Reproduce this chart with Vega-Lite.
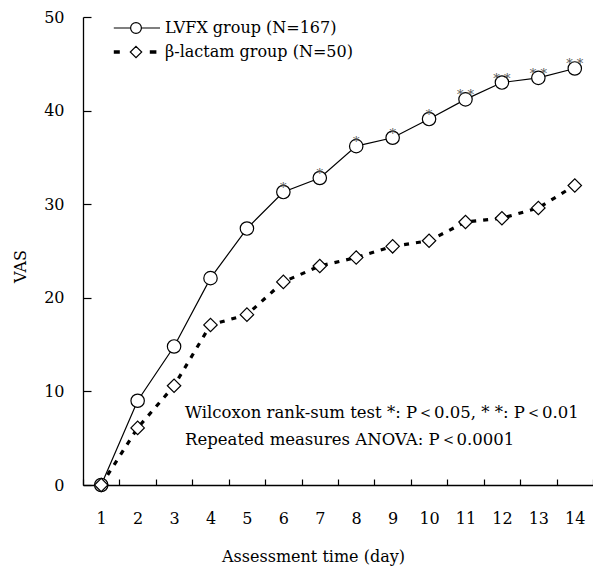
{
  "$schema": "https://vega.github.io/schema/vega-lite/v6.json",
  "width": 510,
  "height": 468,
  "autosize": {"type": "none"},
  "padding": {"left": 83, "top": 17, "right": 0, "bottom": 81},
  "background": "white",
  "config": {
    "view": {"stroke": null},
    "font": "DejaVu Serif",
    "axis": {
      "domainColor": "black",
      "tickColor": "black",
      "labelColor": "black",
      "titleColor": "black",
      "labelFont": "DejaVu Serif",
      "titleFont": "DejaVu Serif",
      "labelFontSize": 16,
      "titleFontSize": 16,
      "titleFontWeight": "normal",
      "grid": false,
      "domainWidth": 1.3,
      "tickWidth": 1.2
    }
  },
  "data": {
    "values": [
      {"day": 1, "group": "LVFX group (N=167)", "vas": 0, "sig": ""},
      {"day": 2, "group": "LVFX group (N=167)", "vas": 9.0, "sig": ""},
      {"day": 3, "group": "LVFX group (N=167)", "vas": 14.8, "sig": ""},
      {"day": 4, "group": "LVFX group (N=167)", "vas": 22.1, "sig": ""},
      {"day": 5, "group": "LVFX group (N=167)", "vas": 27.4, "sig": ""},
      {"day": 6, "group": "LVFX group (N=167)", "vas": 31.3, "sig": "*"},
      {"day": 7, "group": "LVFX group (N=167)", "vas": 32.8, "sig": "*"},
      {"day": 8, "group": "LVFX group (N=167)", "vas": 36.2, "sig": "*"},
      {"day": 9, "group": "LVFX group (N=167)", "vas": 37.1, "sig": "*"},
      {"day": 10, "group": "LVFX group (N=167)", "vas": 39.1, "sig": "*"},
      {"day": 11, "group": "LVFX group (N=167)", "vas": 41.2, "sig": "* *"},
      {"day": 12, "group": "LVFX group (N=167)", "vas": 43.0, "sig": "* *"},
      {"day": 13, "group": "LVFX group (N=167)", "vas": 43.5, "sig": "* *"},
      {"day": 14, "group": "LVFX group (N=167)", "vas": 44.5, "sig": "* *"},
      {"day": 1, "group": "β-lactam group (N=50)", "vas": 0, "sig": ""},
      {"day": 2, "group": "β-lactam group (N=50)", "vas": 6.1, "sig": ""},
      {"day": 3, "group": "β-lactam group (N=50)", "vas": 10.6, "sig": ""},
      {"day": 4, "group": "β-lactam group (N=50)", "vas": 17.1, "sig": ""},
      {"day": 5, "group": "β-lactam group (N=50)", "vas": 18.2, "sig": ""},
      {"day": 6, "group": "β-lactam group (N=50)", "vas": 21.7, "sig": ""},
      {"day": 7, "group": "β-lactam group (N=50)", "vas": 23.4, "sig": ""},
      {"day": 8, "group": "β-lactam group (N=50)", "vas": 24.3, "sig": ""},
      {"day": 9, "group": "β-lactam group (N=50)", "vas": 25.5, "sig": ""},
      {"day": 10, "group": "β-lactam group (N=50)", "vas": 26.1, "sig": ""},
      {"day": 11, "group": "β-lactam group (N=50)", "vas": 28.1, "sig": ""},
      {"day": 12, "group": "β-lactam group (N=50)", "vas": 28.5, "sig": ""},
      {"day": 13, "group": "β-lactam group (N=50)", "vas": 29.6, "sig": ""},
      {"day": 14, "group": "β-lactam group (N=50)", "vas": 32.0, "sig": ""}
    ]
  },
  "encoding": {
    "x": {
      "field": "day",
      "type": "ordinal",
      "bandPosition": 0.5,
      "scale": {"type": "band", "paddingInner": 0, "paddingOuter": 0},
      "axis": {
        "title": "Assessment time (day)",
        "labelAngle": 0,
        "tickBand": "extent",
        "tickSize": -6,
        "labelPadding": 31,
        "titlePadding": 22,
        "titleX": 230
      }
    },
    "y": {
      "field": "vas",
      "type": "quantitative",
      "scale": {"domain": [0, 50], "nice": false},
      "axis": {
        "title": "VAS",
        "values": [0, 10, 20, 30, 40, 50],
        "tickSize": -8,
        "labelPadding": 27,
        "titleX": -63,
        "titleY": 249,
        "titleBaseline": "middle"
      }
    }
  },
  "resolve": {"scale": {"shape": "independent"}},
  "layer": [
    {
      "transform": [{"filter": "datum.group === 'LVFX group (N=167)'"}],
      "mark": {"type": "line", "color": "black", "strokeWidth": 1.2}
    },
    {
      "transform": [{"filter": "datum.group === 'β-lactam group (N=50)'"}],
      "mark": {"type": "line", "color": "black", "strokeWidth": 3.2, "strokeDash": [5, 7]}
    },
    {
      "mark": {"type": "point", "filled": true, "fill": "white", "stroke": "black", "strokeWidth": 1.2, "size": 180, "opacity": 1},
      "encoding": {
        "shape": {
          "field": "group",
          "scale": {"domain": ["LVFX group (N=167)", "β-lactam group (N=50)"], "range": ["circle", "diamond"]},
          "legend": null
        }
      }
    },
    {
      "mark": {"type": "point", "filled": false, "stroke": "transparent", "strokeWidth": 1.2, "size": 144},
      "encoding": {
        "shape": {
          "field": "group",
          "scale": {
            "domain": ["LVFX group (N=167)", "β-lactam group (N=50)"],
            "range": [
              "M-3.7,0 H-0.9 M0.9,0 H4 M0.9,0 A0.9,0.9,0,1,1,-0.9,0 A0.9,0.9,0,1,1,0.9,0 Z",
              "M-3.7,-0.2 H-2.7 M-3.7,0 H-2.7 M-3.7,0.2 H-2.7 M2.3,-0.2 H3.4 M2.3,0 H3.4 M2.3,0.2 H3.4 M0,-0.95 L0.95,0 L0,0.95 L-0.95,0 Z"
            ]
          },
          "legend": {
            "title": null,
            "orient": "none",
            "legendX": 23,
            "legendY": 3,
            "padding": 0,
            "symbolSize": 144,
            "symbolOffset": 22,
            "labelOffset": 21,
            "rowPadding": 7,
            "labelFont": "DejaVu Serif",
            "labelFontSize": 16,
            "labelColor": "black",
            "labelLimit": 0,
            "symbolStrokeColor": "black",
            "symbolFillColor": "white",
            "symbolStrokeWidth": 1.2,
            "symbolOpacity": 1
          }
        }
      }
    },
    {
      "transform": [{"filter": "datum.sig != ''"}],
      "mark": {"type": "text", "dy": -4, "fontSize": 13, "color": "#555", "font": "DejaVu Serif"},
      "encoding": {"text": {"field": "sig"}}
    },
    {
      "transform": [{"filter": "datum.day === 1 && datum.group === 'LVFX group (N=167)'"}],
      "mark": {"type": "text", "align": "left", "baseline": "alphabetic", "dx": 11, "fontSize": 16.5, "lineHeight": 27, "font": "DejaVu Serif", "color": "black"},
      "encoding": {
        "x": {"datum": 3, "type": "ordinal", "bandPosition": 0.5},
        "y": {"datum": 7.2, "type": "quantitative"},
        "text": {"value": ["Wilcoxon rank-sum test  *: P＜0.05, * *: P＜0.01", "Repeated measures  ANOVA: P＜0.0001"]}
      }
    }
  ]
}
